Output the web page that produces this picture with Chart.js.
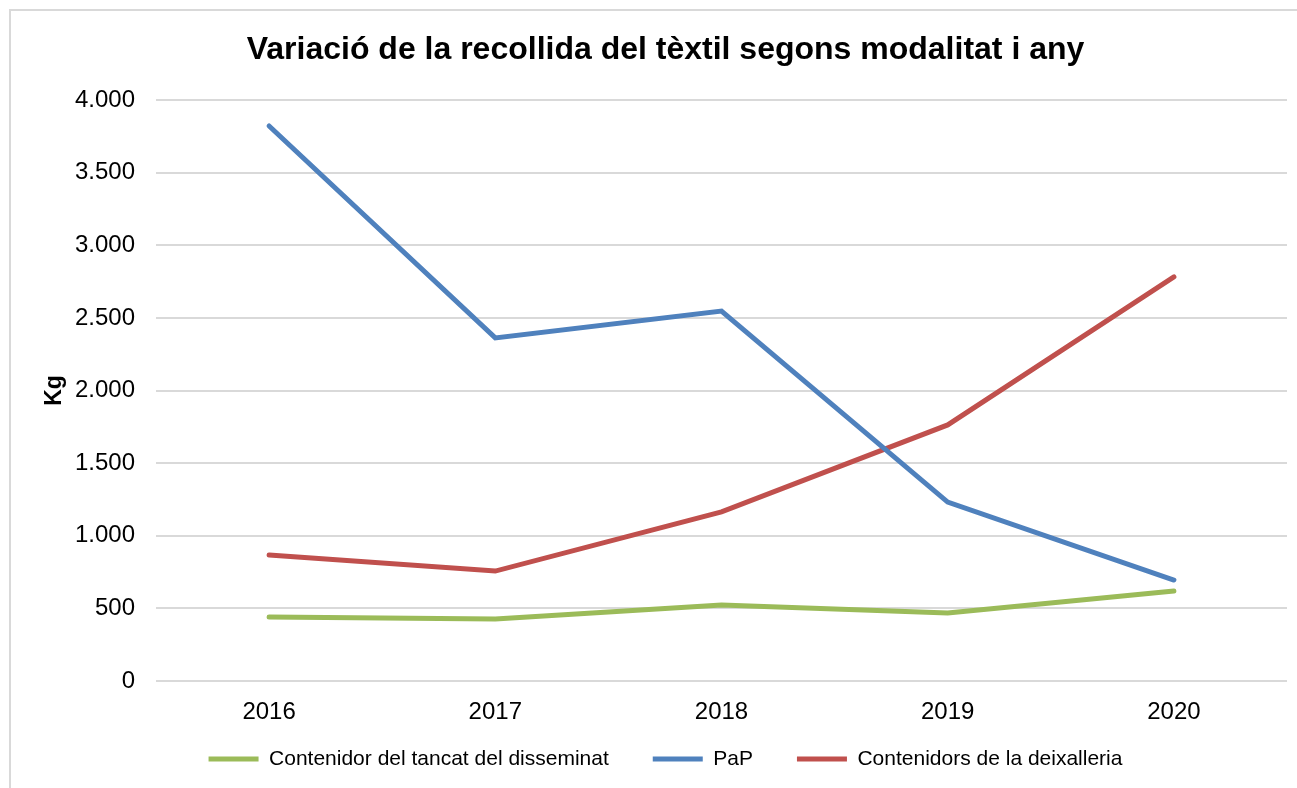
<!DOCTYPE html>
<html>
<head>
<meta charset="utf-8">
<script src="https://cdn.jsdelivr.net/npm/chart.js@4"></script>
<style>
  html, body { margin: 0; padding: 0; background: #fff; }
  #wrap { position: relative; width: 1297px; height: 788px; }
</style>
</head>
<body>
<div id="wrap"><canvas id="recollidaChart"></canvas></div>
<script>
const years = ['2016', '2017', '2018', '2019', '2020'];
const disseminatValues = [441, 427, 523, 468, 620];
const papValues = [3821, 2362, 2547, 1232, 695];
const deixalleriaValues = [868, 757, 1164, 1763, 2782];

const FONT = 'Liberation Sans, Arial, sans-serif';

// thousands with a dot, as in the original
function formatKg(value) {
    return value.toString().replace(/\B(?=(\d{3})+(?!\d))/g, '.');
}

// light grey frame round the chart (open on the right and bottom)
const framePlugin = {
    id: 'frame',
    beforeDraw(chart) {
        const c = chart.ctx;
        c.save();
        c.strokeStyle = '#d9d9d9';
        c.lineWidth = 2;
        c.strokeRect(10, 10, 1300, 800);
        c.restore();
    },
    // title and legend sit a bit right of the canvas centre in the original,
    // and the legend sits closer to the axis than its padding would allow
    afterLayout(chart) {
        const shift = 22;
        chart.titleBlock.left += shift;
        chart.titleBlock.right += shift;
        chart.legend.left += shift;
        chart.legend.right += shift;
        chart.legend.top -= 22.5;
        chart.legend.bottom -= 22.5;
    }
};

const ctx = document.getElementById('recollidaChart').getContext('2d');
const recollidaChart = new Chart(ctx, {
    type: 'line',
    data: {
        labels: years,
        datasets: [{
            label: 'Contenidor del tancat del disseminat',
            data: disseminatValues,
            borderColor: '#9bbb59',
            backgroundColor: '#9bbb59',
            borderWidth: 5,
            borderCapStyle: 'round',
            pointRadius: 0,
            tension: 0
        }, {
            label: 'PaP',
            data: papValues,
            borderColor: '#4f81bd',
            backgroundColor: '#4f81bd',
            borderWidth: 5,
            borderCapStyle: 'round',
            pointRadius: 0,
            tension: 0
        }, {
            label: 'Contenidors de la deixalleria',
            data: deixalleriaValues,
            borderColor: '#c0504d',
            backgroundColor: '#c0504d',
            borderWidth: 5,
            borderCapStyle: 'round',
            pointRadius: 0,
            tension: 0
        }]
    },
    options: {
        responsive: true,
        maintainAspectRatio: false,
        animation: false,
        layout: {
            padding: { left: 0, right: 10, top: 0, bottom: -14 }
        },
        plugins: {
            title: {
                display: true,
                text: 'Variació de la recollida del tèxtil segons modalitat i any',
                color: '#000',
                font: { family: FONT, size: 32, weight: 'bold' },
                padding: { top: 31, bottom: 30.6 }
            },
            legend: {
                position: 'bottom',
                labels: {
                    color: '#000',
                    font: { family: FONT, size: 21 },
                    usePointStyle: true,
                    pointStyle: 'line',
                    pointStyleWidth: 50,
                    padding: 44
                }
            },
            tooltip: { enabled: false }
        },
        scales: {
            y: {
                min: 0,
                max: 4000,
                ticks: {
                    stepSize: 500,
                    color: '#000',
                    padding: 21,
                    font: { family: FONT, size: 24 },
                    callback: function (value) {
                        return formatKg(value);
                    }
                },
                grid: {
                    color: '#d9d9d9',
                    lineWidth: 2,
                    drawTicks: false
                },
                border: { display: false },
                title: {
                    display: true,
                    text: 'Kg',
                    color: '#000',
                    font: { family: FONT, size: 23, weight: 'bold' },
                    padding: { top: 41, bottom: 0 }
                },
                afterFit: function (scale) {
                    scale.width = 156;
                }
            },
            x: {
                offset: true,
                ticks: {
                    color: '#000',
                    padding: 16.6,
                    font: { family: FONT, size: 24 }
                },
                grid: { display: false, drawTicks: false, offset: true },
                border: { display: false },
                afterFit: function (scale) {
                    scale.height = 46;
                }
            }
        }
    },
    plugins: [framePlugin]
});
</script>
</body>
</html>
